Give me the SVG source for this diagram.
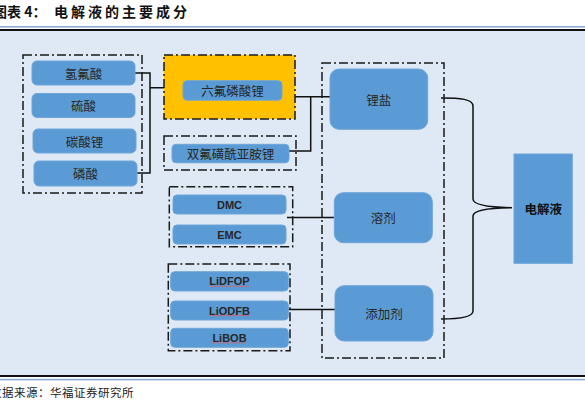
<svg xmlns="http://www.w3.org/2000/svg" width="585" height="409" viewBox="0 0 585 409">
<style>
.grp{fill:none;stroke:#1a1a1a;stroke-width:1.5;stroke-dasharray:9 3 2 3}
.box{fill:#5b9bd5;stroke:#6fa5d8;stroke-width:1}
.cn{font-family:"Noto Sans CJK SC","Noto Sans",sans-serif;font-size:12.5px;fill:#262626;text-anchor:middle;dominant-baseline:central}
.en{font-family:"Liberation Sans",Arial,sans-serif;font-size:11px;font-weight:bold;fill:#262626;text-anchor:middle;dominant-baseline:central}
.con{fill:none;stroke:#111;stroke-width:1.5}
.sq{fill:none;stroke:#e05a5a;stroke-width:0.8}
</style>
<rect x="0" y="0" width="585" height="409" fill="#ffffff"/>
<text x="-7" y="17" font-family="'Noto Sans CJK SC',sans-serif" font-size="14" font-weight="bold" fill="#111">图表 4：</text>
<text x="54" y="17" font-family="'Noto Sans CJK SC',sans-serif" font-size="14" font-weight="bold" fill="#111" letter-spacing="3">电解液的主要成分</text>
<rect x="0" y="26" width="585" height="1.6" fill="#8eaad0"/>
<rect x="0" y="29" width="585" height="2" fill="#111"/>
<rect x="0" y="31" width="585" height="344" fill="#dfe9f5"/>
<rect x="0" y="375" width="585" height="2" fill="#111"/>
<rect x="0" y="378.8" width="585" height="1.6" fill="#8eaad0"/>
<text x="-10" y="397" font-family="'Noto Sans CJK SC',sans-serif" font-size="11.5" fill="#222" letter-spacing="0.5">数据来源：华福证券研究所</text>

<g id="connectors">
<path class="con" d="M135,73 H150 M137,173 H150 M150,72.3 V173.7 M150,87.7 H164"/>
<path class="con" d="M295,96.7 H330 M310.7,96 V151 H289"/>
<path class="con" d="M287,217.5 H334"/>
<path class="con" d="M288,309.5 H335"/>
<path class="con" d="M441,98 C460,98 473,99 473,106 L473,199 C473,205 490,207.3 512,207.7 C490,208 473,210 473,216 L473,311 C473,317 460,319 441,319"/>
</g>

<g id="group-acids">
<rect class="grp" x="23" y="55" width="119" height="138"/>
</g>
<g id="n-hf"><rect class="box" x="32" y="61" width="103" height="24" rx="5"/><text class="cn" x="83.5" y="73">氢氟酸</text></g>
<g id="n-h2so4"><rect class="box" x="32" y="93.5" width="103" height="24" rx="5"/><text class="cn" x="83.5" y="105.5">硫酸</text></g>
<g id="n-li2co3"><rect class="box" x="33" y="129" width="103" height="24" rx="5"/><text class="cn" x="84.5" y="141">碳酸锂</text></g>
<g id="n-h3po4"><rect class="box" x="34" y="161" width="103" height="25" rx="5"/><text class="cn" x="85.5" y="173.5">磷酸</text></g>

<g id="n-lipf6">
<rect x="164" y="55" width="131" height="64" fill="#ffc000" stroke="#1a1a1a" stroke-width="1.5" stroke-dasharray="9 3 2 3"/>
<rect class="box" x="183" y="80.7" width="99" height="19.5" rx="4"/><text class="cn" x="232.5" y="90.5">六氟磷酸锂</text>
</g>
<g id="n-lifsi">
<rect class="grp" x="164" y="136" width="132" height="34"/>
<rect class="box" x="172" y="144.3" width="117" height="18.5" rx="4"/><text class="cn" x="230.5" y="153.5">双氟磺酰亚胺锂</text>
</g>

<g id="group-solvents">
<rect class="grp" x="169.3" y="186.7" width="123.4" height="60"/>
</g>
<g id="n-dmc"><rect class="box" x="173" y="195" width="113" height="19" rx="4"/><text class="en" x="229.5" y="204.5">DMC</text></g>
<g id="n-emc"><rect class="box" x="173" y="225" width="113" height="19" rx="4"/><text class="en" x="229.5" y="234.5">EMC</text></g>

<g id="group-additives">
<rect class="grp" x="168.3" y="264" width="121.7" height="86.7"/>
</g>
<g id="n-lidfop"><rect class="box" x="170.7" y="271.7" width="117.6" height="19.3" rx="4"/><text class="en" x="229.5" y="281.3">LiDFOP</text><path class="sq" d="M210,286.8 l1.5,-1 l1.5,1 l1.5,-1 l1.5,1 l1.5,-1 l1.5,1 l1.5,-1 l1.5,1 l1.5,-1 l1.5,1 l1.5,-1 l1.5,1 l1.5,-1 l1.5,1 l1.5,-1 l1.5,1 l1.5,-1 l1.5,1 l1.5,-1 l1.5,1 l1.5,-1 l1.5,1 l1.5,-1 l1.5,1 l1.5,-1 l1.5,1"/></g>
<g id="n-liodfb"><rect class="box" x="170.7" y="301" width="117.6" height="19" rx="4"/><text class="en" x="229.5" y="310.5">LiODFB</text><path class="sq" d="M210,316 l1.5,-1 l1.5,1 l1.5,-1 l1.5,1 l1.5,-1 l1.5,1 l1.5,-1 l1.5,1 l1.5,-1 l1.5,1 l1.5,-1 l1.5,1 l1.5,-1 l1.5,1 l1.5,-1 l1.5,1 l1.5,-1 l1.5,1 l1.5,-1 l1.5,1 l1.5,-1 l1.5,1 l1.5,-1 l1.5,1 l1.5,-1 l1.5,1"/></g>
<g id="n-libob"><rect class="box" x="170.7" y="328.3" width="117.6" height="19" rx="4"/><text class="en" x="229.5" y="337.8">LiBOB</text><path class="sq" d="M212,343.3 l1.5,-1 l1.5,1 l1.5,-1 l1.5,1 l1.5,-1 l1.5,1 l1.5,-1 l1.5,1 l1.5,-1 l1.5,1 l1.5,-1 l1.5,1 l1.5,-1 l1.5,1 l1.5,-1 l1.5,1 l1.5,-1 l1.5,1 l1.5,-1 l1.5,1 l1.5,-1 l1.5,1"/></g>

<g id="group-components">
<rect class="grp" x="322" y="63" width="122" height="295"/>
</g>
<g id="n-salt"><rect class="box" x="330" y="69" width="97.7" height="60.3" rx="9"/><text class="cn" x="378.8" y="99">锂盐</text></g>
<g id="n-solvent"><rect class="box" x="334.3" y="192.7" width="98" height="50" rx="9"/><text class="cn" x="383.3" y="217.7">溶剂</text></g>
<g id="n-additive"><rect class="box" x="335" y="285.7" width="98" height="55.3" rx="9"/><text class="cn" x="384" y="313.3">添加剂</text></g>

<g id="n-electrolyte"><rect x="514" y="154" width="58.3" height="109.3" fill="#5b9bd5" stroke="#6fa5d8" stroke-width="1"/><text x="543.2" y="208.5" font-family="'Noto Sans CJK SC',sans-serif" font-size="12.5" font-weight="bold" fill="#111" text-anchor="middle" dominant-baseline="central">电解液</text></g>
</svg>
